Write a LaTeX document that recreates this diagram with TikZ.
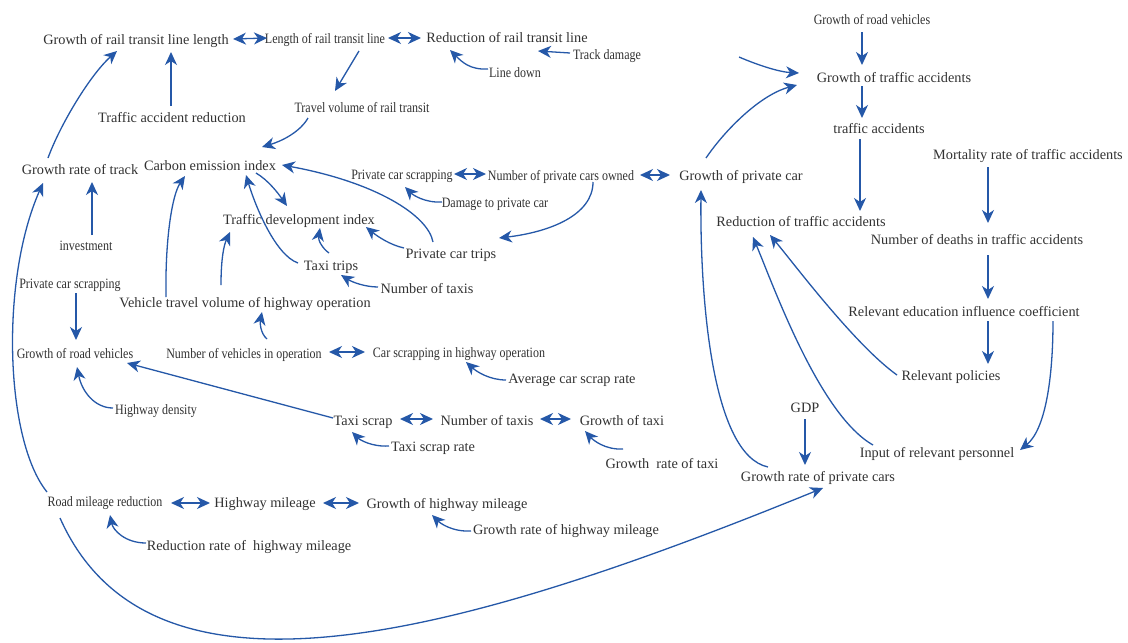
\documentclass[tikz,border=0pt]{standalone}
\usepackage{fontspec}
\setmainfont{Liberation Serif}
\newfontfamily\condf[FakeStretch=0.84]{Liberation Serif}
\usetikzlibrary{arrows.meta}
\definecolor{lnc}{RGB}{37,88,168}
\definecolor{txc}{RGB}{50,50,50}
\tikzset{
 lab/.style={inner sep=0pt, text=txc, font=\fontsize{14.3}{16}\selectfont, text height=12pt, text depth=2pt},
 clab/.style={lab, font=\condf\fontsize{14.3}{16}\selectfont},
 tip/.tip={Stealth[length=13pt,width=12pt,inset=4pt]},
 arr/.style={draw=lnc, line width=1.3pt, -tip},
 darr/.style={draw=lnc, line width=1.3pt, tip-tip},
}
\begin{document}
\begin{tikzpicture}[x=1pt,y=-1pt]
\fill[white] (0,0) rectangle (1128,643);
\useasboundingbox (0,0) rectangle (1128,643);
% nodes
\node[lab]  (a1)   at (136,39)  {Growth of rail transit line length};
\node[clab] (a2)   at (325,38)  {Length of rail transit line};
\node[lab]  (a3)   at (507,37)  {Reduction of rail transit line};
\node[clab] (td)   at (607,54)  {Track damage};
\node[clab] (ld)   at (515,72)  {Line down};
\node[lab]  (tar)  at (172,117) {Traffic accident reduction};
\node[clab] (tv)   at (362,107) {Travel volume of rail transit};
\node[lab]  (grt)  at (80,169)  {Growth rate of track};
\node[lab]  (cei)  at (210,165) {Carbon emission index};
\node[clab] (pcs)  at (402,174) {Private car scrapping};
\node[clab] (npc)  at (561,175) {Number of private cars owned};
\node[lab]  (gpc)  at (741,175) {Growth of private car};
\node[clab] (dpc)  at (495,202) {Damage to private car};
\node[lab]  (tdi)  at (299,219) {Traffic development index};
\node[lab]  (pct)  at (451,253) {Private car trips};
\node[lab]  (tt)   at (331,265) {Taxi trips};
\node[lab]  (nt1)  at (427,288) {Number of taxis};
\node[clab] (inv)  at (86,245)  {investment};
\node[clab] (pcsl) at (70,283)  {Private car scrapping};
\node[lab]  (vtv)  at (245,302) {Vehicle travel volume of highway operation};
\node[clab] (grvl) at (75,353)  {Growth of road vehicles};
\node[clab] (nvo)  at (244,353) {Number of vehicles in operation};
\node[clab] (csh)  at (459,352) {Car scrapping in highway operation};
\node[lab]  (acs)  at (572,378) {Average car scrap rate};
\node[clab] (hd)   at (156,409) {Highway density};
\node[lab]  (ts)   at (363,420) {Taxi scrap};
\node[lab]  (nt2)  at (487,420) {Number of taxis};
\node[lab]  (gt)   at (622,420) {Growth of taxi};
\node[lab]  (tsr)  at (433,446) {Taxi scrap rate};
\node[lab]  (grtx) at (662,463) {Growth~~rate of taxi};
\node[lab]  (gdp)  at (805,407) {GDP};
\node[lab]  (grpc) at (818,476) {Growth rate of private cars};
\node[lab]  (irp)  at (937,452) {Input of relevant personnel};
\node[lab]  (rp)   at (951,375) {Relevant policies};
\node[lab]  (rei)  at (964,311) {Relevant education influence coefficient};
\node[lab]  (ndt)  at (977,239) {Number of deaths in traffic accidents};
\node[lab]  (mr)   at (1028,154) {Mortality rate of traffic accidents};
\node[lab]  (rta)  at (801,221) {Reduction of traffic accidents};
\node[lab]  (ta)   at (879,128) {traffic accidents};
\node[lab]  (gta)  at (894,77)  {Growth of traffic accidents};
\node[clab] (grvt) at (872,19)  {Growth of road vehicles};
\node[clab] (rmr)  at (105,501) {Road mileage reduction};
\node[lab]  (hm)   at (265,502) {Highway mileage};
\node[lab]  (ghm)  at (447,503) {Growth of highway mileage};
\node[lab]  (rrhm) at (249,545) {Reduction rate of~~highway mileage};
\node[lab]  (grhm) at (566,529) {Growth rate of highway mileage};
\coordinate (fs) at (739,57);
% connectors
\draw[darr] ([shift={(97,0)}]a1.center) -- ([shift={(-58,0)}]a2.center);
\draw[darr] ([shift={(63,0)}]a2.center) -- ([shift={(-86,1)}]a3.center);
\draw[arr] ([shift={(-37,-1)}]td.center) -- ([shift={(31,14)}]a3.center);
\draw[arr] ([shift={(-27,-3)}]ld.center) .. controls (470,70) and (462,62) .. ([shift={(-57,13)}]a3.center);
\draw[arr] ([shift={(34,13)}]a2.center) -- ([shift={(-27,-16)}]tv.center);
\draw[arr] ([shift={(-54,11)}]tv.center) .. controls (300,132) and (282,141) .. ([shift={(52,-18)}]cei.center);
\draw[arr] ([shift={(-1,-11)}]tar.center) -- ([shift={(35,13)}]a1.center);
\draw[arr] ([shift={(-32,-11)}]grt.center) .. controls (60,125) and (90,75) .. ([shift={(-19,12)}]a1.center);
\draw[arr] ([shift={(6,-10)}]inv.center) -- ([shift={(12,13)}]grt.center);
\draw[arr] ([shift={(6,10)}]pcsl.center) -- ([shift={(1,-13)}]grvl.center);
\draw[arr] ([shift={(-43,-1)}]hd.center) .. controls (95,408) and (82,392) .. ([shift={(2,14)}]grvl.center);
\draw[arr] ([shift={(-30,-2)}]ts.center) -- ([shift={(52,10)}]grvl.center);
\draw[arr] ([shift={(-79,-5)}]vtv.center) .. controls (165,240) and (172,195) .. ([shift={(-25,11)}]cei.center);
\draw[arr] ([shift={(-24,-17)}]vtv.center) .. controls (221,258) and (224,245) .. ([shift={(-69,13)}]tdi.center);
\draw[arr] ([shift={(23,-14)}]nvo.center) .. controls (260,333) and (260,322) .. ([shift={(17,10)}]vtv.center);
\draw[darr] ([shift={(85,-1)}]nvo.center) -- ([shift={(-94,0)}]csh.center);
\draw[arr] ([shift={(-66,2)}]acs.center) .. controls (490,380) and (477,372) .. ([shift={(7,10)}]csh.center);
\draw[arr] ([shift={(46,8)}]cei.center) .. controls (268,180) and (278,193) .. ([shift={(-12,-13)}]tdi.center);
\draw[arr] ([shift={(-33,-2)}]tt.center) .. controls (275,255) and (255,205) .. ([shift={(36,10)}]cei.center);
\draw[arr] ([shift={(-2,-12)}]tt.center) .. controls (322,248) and (318,240) .. ([shift={(21,9)}]tdi.center);
\draw[arr] ([shift={(-49,-1)}]nt1.center) .. controls (365,287) and (352,282) .. ([shift={(10,10)}]tt.center);
\draw[arr] ([shift={(-47,-5)}]pct.center) .. controls (390,245) and (377,236) .. ([shift={(67,8)}]tdi.center);
\draw[arr] ([shift={(-18,-11)}]pct.center) .. controls (428,215) and (375,182) .. ([shift={(72,0)}]cei.center);
\draw[darr] ([shift={(52,0)}]pcs.center) -- ([shift={(-75,-1)}]npc.center);
\draw[arr] ([shift={(-53,0)}]dpc.center) .. controls (425,203) and (413,195) .. ([shift={(3,13)}]pcs.center);
\draw[arr] ([shift={(32,7)}]npc.center) .. controls (593,215) and (550,232) .. ([shift={(48,-15)}]pct.center);
\draw[darr] ([shift={(79,0)}]npc.center) -- ([shift={(-71,0)}]gpc.center);
\draw[arr] ([shift={(-35,-17)}]gpc.center) .. controls (725,130) and (760,95) .. ([shift={(-97,8)}]gta.center);
\draw[arr] (fs) .. controls (760,66) and (780,72) .. ([shift={(-95,-4)}]gta.center);
\draw[arr] ([shift={(-10,13)}]grvt.center) -- ([shift={(-32,-12)}]gta.center);
\draw[arr] ([shift={(-32,9)}]gta.center) -- ([shift={(-17,-10)}]ta.center);
\draw[arr] ([shift={(-19,11)}]ta.center) -- ([shift={(59,-10)}]rta.center);
\draw[arr] ([shift={(-40,13)}]mr.center) -- ([shift={(11,-16)}]ndt.center);
\draw[arr] ([shift={(11,16)}]ndt.center) -- ([shift={(24,-12)}]rei.center);
\draw[arr] ([shift={(24,10)}]rei.center) -- ([shift={(37,-11)}]rp.center);
\draw[arr] ([shift={(89,10)}]rei.center) .. controls (1053,380) and (1045,430) .. ([shift={(83,-2)}]irp.center);
\draw[arr] ([shift={(-54,0)}]rp.center) .. controls (855,345) and (795,265) .. ([shift={(-31,14)}]rta.center);
\draw[arr] ([shift={(-64,-7)}]irp.center) .. controls (820,415) and (775,290) .. ([shift={(-48,16)}]rta.center);
\draw[arr] ([shift={(-50,-9)}]grpc.center) .. controls (712,455) and (700,300) .. ([shift={(-40,15)}]gpc.center);
\draw[arr] ([shift={(0,12)}]gdp.center) -- ([shift={(-13,-11)}]grpc.center);
\draw[darr] ([shift={(53,-1)}]nt2.center) -- ([shift={(-51,-1)}]gt.center);
\draw[darr] ([shift={(37,-1)}]ts.center) -- ([shift={(-54,-1)}]nt2.center);
\draw[arr] ([shift={(-44,0)}]tsr.center) .. controls (372,447) and (360,440) .. ([shift={(-11,12)}]ts.center);
\draw[arr] ([shift={(-39,-14)}]grtx.center) .. controls (605,450) and (593,440) .. ([shift={(-37,11)}]gt.center);
\draw[darr] ([shift={(66,2)}]rmr.center) -- ([shift={(-55,1)}]hm.center);
\draw[darr] ([shift={(58,1)}]hm.center) -- ([shift={(-88,0)}]ghm.center);
\draw[arr] ([shift={(-103,-2)}]rrhm.center) .. controls (125,543) and (113,530) .. ([shift={(5,14)}]rmr.center);
\draw[arr] ([shift={(-95,2)}]grhm.center) .. controls (452,532) and (440,523) .. ([shift={(-15,12)}]ghm.center);
\draw[arr] ([shift={(-58,-9)}]rmr.center) .. controls (5,440) and (0,280) .. ([shift={(-37,14)}]grt.center);
\draw[arr] ([shift={(-45,17)}]rmr.center) .. controls (150,720) and (450,640) .. ([shift={(5,12)}]grpc.center);
\end{tikzpicture}
\end{document}
